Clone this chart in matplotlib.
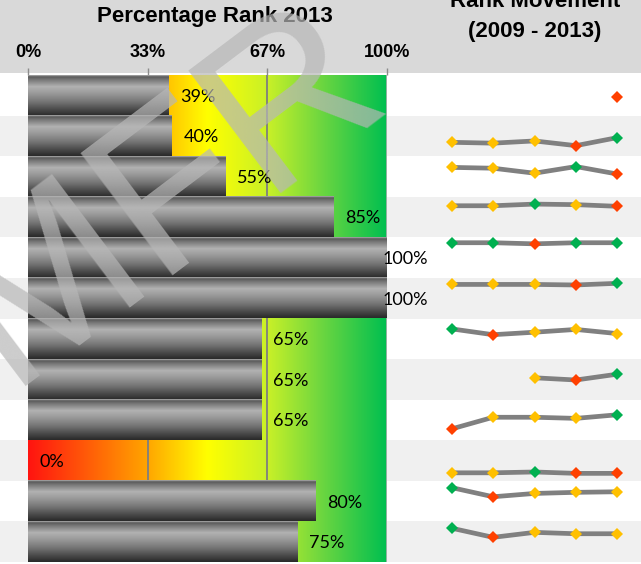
import numpy as np
import matplotlib.pyplot as plt
from matplotlib.colors import LinearSegmentedColormap

# percentage rank in 2013, one per row (top to bottom)
ranks_2013 = [39, 40, 55, 85, 100, 100, 65, 65, 65, 0, 80, 75]

# rank movement 2009 - 2013, same rows (None = no value that year)
years = [2009, 2010, 2011, 2012, 2013]
movement = [
    [None, None, None, None, 39],
    [23, 20, 28, 11, 40],
    [79, 76, 58, 82, 55],
    [87, 87, 93, 91, 85],
    [100, 100, 96, 100, 100],
    [96, 96, 96, 94, 100],
    [82, 61, 70, 80, 65],
    [None, None, 52, 44, 65],
    [14, 56, 56, 52, 65],
    [2, 2, 5, 0, 0],
    [95, 62, 74, 78, 80],
    [95, 62, 80, 75, 75],
]

tick_values = [0, 33.3, 66.7, 100]
tick_labels = ['0%', '33%', '67%', '100%']

W, H = 641, 564
ROW_TOP, ROW_BOTTOM = 75, 562
n_rows = len(ranks_2013)
row_px = (ROW_BOTTOM - ROW_TOP) / n_rows

fig = plt.figure(figsize=(W / 100, H / 100), dpi=100)

# background: header band and row stripes
bg = fig.add_axes([0, 0, 1, 1])
bg.set_xlim(0, 1)
bg.set_ylim(n_rows + (H - ROW_BOTTOM) / row_px, -ROW_TOP / row_px)
bg.axis('off')
bg.axhspan(-ROW_TOP / row_px, -0.04, color='#d9d9d9', lw=0)
for i in range(1, n_rows, 2):
    bg.axhspan(i, i + 1, color='#f0f0f0', lw=0)

# bar chart
ax = fig.add_axes([28 / W, (H - ROW_BOTTOM) / H, 359 / W, (ROW_BOTTOM - ROW_TOP) / H])
ax.patch.set_alpha(0)

rank_cmap = LinearSegmentedColormap.from_list('rank', [
    (0.0, '#ff1410'), (0.33, '#ffa400'), (0.5, '#ffff00'),
    (0.67, '#c8f028'), (0.82, '#6cd640'), (1.0, '#00bf50')])
ax.imshow(np.linspace(0, 1, 256)[None, :], extent=(0, 100, n_rows, 0),
          aspect='auto', cmap=rank_cmap, zorder=0)
for t in tick_values[1:3]:
    ax.axvline(t, color='#7f7f7f', lw=1.3, zorder=1)
ax.axvline(100, color='#b0b0b0', lw=1.2, zorder=1)

bar_cmap = LinearSegmentedColormap.from_list('cyl', [
    (0.0, '#a8a8a8'), (0.035, '#5a5a5a'), (0.12, '#7c7c7c'), (0.28, '#b2b2b2'),
    (0.45, '#999999'), (0.65, '#767676'), (0.85, '#494949'), (1.0, '#2a2a2a')])
shade = np.linspace(0, 1, 80)[:, None]

y_pos = np.arange(n_rows) + 0.5
bars = ax.barh(y_pos, ranks_2013, height=1.0, color='none', zorder=2)
for bar in bars:
    if bar.get_width() <= 0:
        continue
    x0, y0 = bar.get_x(), bar.get_y()
    ax.imshow(shade, extent=(x0, x0 + bar.get_width(), y0 + bar.get_height(), y0),
              aspect='auto', cmap=bar_cmap, zorder=2)

for y, v in zip(y_pos, ranks_2013):
    off = 8.6 if v < 100 else -2.9
    ax.annotate(f'{v}%', (v, y), xytext=(off, -1), textcoords='offset points',
                ha='left', va='center', fontsize=13, family='Lato',
                annotation_clip=False, zorder=4)

ax.set_xlim(0, 100)
ax.set_ylim(n_rows, 0)
ax.xaxis.tick_top()
ax.set_xticks(tick_values, labels=tick_labels)
ax.tick_params(axis='x', direction='out', length=5, width=1, color='#8c8c8c',
               pad=5, labelsize=13)
for lab in ax.get_xticklabels():
    lab.set_fontweight('bold')
    lab.set_family('Liberation Sans')
ax.set_yticks([])
for s in ax.spines.values():
    s.set_visible(False)

# sparklines
sp = fig.add_axes([431 / W, (H - ROW_BOTTOM) / H, 207 / W, (ROW_BOTTOM - ROW_TOP) / H])
sp.set_xlim(2008.5, 2013.5)
sp.set_ylim(n_rows, 0)
sp.axis('off')
for i, vals in enumerate(movement):
    pts = [(yr, v) for yr, v in zip(years, vals) if v is not None]
    xs = [p[0] for p in pts]
    vs = [p[1] for p in pts]
    ys = [i + 0.133 + (100 - v) * 0.00683 for v in vs]
    sp.plot(xs, ys, color='#808080', lw=3.4, zorder=2, solid_joinstyle='round')
    lo, hi = min(vs), max(vs)
    for x, v, y in zip(xs, vs, ys):
        c = '#ff4000' if v == lo else ('#00b050' if v == hi else '#ffc000')
        sp.plot(x, y, 'D', color=c, ms=6.4, mew=0, zorder=3)

# headers
fig.text(215 / W, 1 - 22 / H, 'Percentage Rank 2013', ha='center', va='baseline',
         fontsize=16, fontweight='bold', family='Liberation Sans')
fig.text(535 / W, 1 - 7 / H, 'Rank Movement', ha='center', va='baseline',
         fontsize=16, fontweight='bold', family='Liberation Sans')
fig.text(535 / W, 1 - 37 / H, '(2009 - 2013)', ha='center', va='baseline',
         fontsize=16, fontweight='bold', family='Liberation Sans')

# watermark
fig.text(8 / W, 1 - 386 / H, 'MFR', ha='left', va='baseline', rotation=37,
         rotation_mode='anchor', fontsize=160, family='Liberation Sans',
         color='#b7b7b7', alpha=0.7, zorder=10)

fig.savefig('out.png', dpi=100)
